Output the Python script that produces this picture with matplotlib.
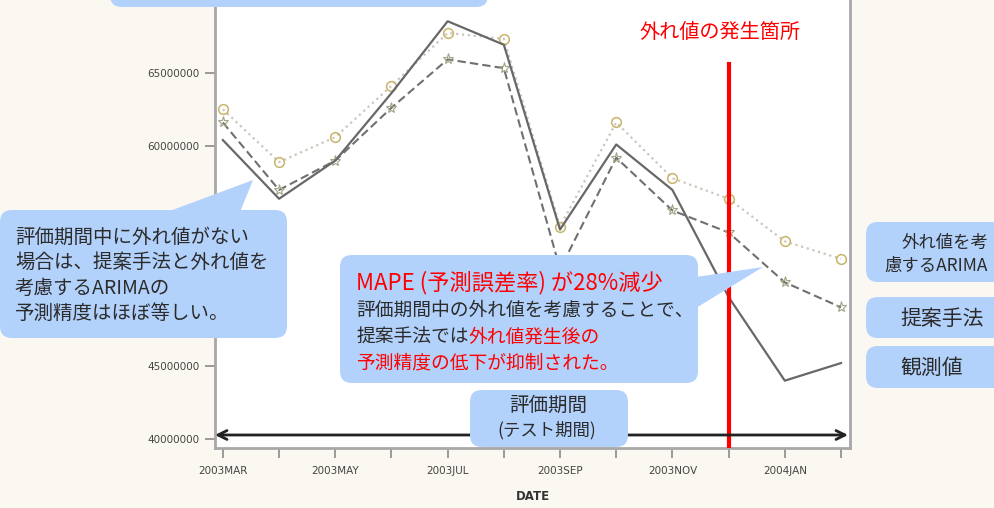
import matplotlib
matplotlib.use('Agg')
import matplotlib.pyplot as plt
from matplotlib.patches import FancyBboxPatch, Polygon

plt.rcParams['font.family'] = ['Noto Sans CJK JP', 'DejaVu Sans']

# monthly series (test period)
months = ['2003MAR', '2003APR', '2003MAY', '2003JUN', '2003JUL', '2003AUG',
          '2003SEP', '2003OCT', '2003NOV', '2003DEC', '2004JAN', '2004FEB']
observed = [60400000, 56400000, 59000000, 63600000, 68500000, 66900000,
            54300000, 60100000, 57000000, 49700000, 44000000, 45200000]
proposed = [61600000, 57000000, 59000000, 62600000, 65900000, 65300000,
            51600000, 59200000, 55600000, 54100000, 50700000, 49000000]
arima_outlier = [62500000, 58900000, 60600000, 64100000, 67700000, 67300000,
                 54500000, 61600000, 57800000, 56400000, 53500000, 52300000]
outlier_month = '2003DEC'
y_ticks = [40000000, 45000000, 50000000, 55000000, 60000000, 65000000]
# the 50M / 55M labels sit under the left note box
y_labels = ['40000000', '45000000', '', '', '60000000', '65000000']

W, H = 995, 508
BOX = '#b3d2fb'
INK = '#2b2b2b'

fig = plt.figure(figsize=(W / 100, H / 100), dpi=100, facecolor='#fbf8f1')

# plot area: x 215..850 px, bottom at 448 px, top runs off the canvas
ax = fig.add_axes([215 / W, 1 - 448 / H, (850 - 215) / W, (448 + 10) / H])
ax.set_facecolor('white')

x = list(range(len(months)))
ax.plot(x, arima_outlier, color='#ccc6bb', ls=':', lw=1.6, marker='o', ms=7,
        mfc='none', mec='#c9b46c', mew=1.1, zorder=2)
ax.plot(x, proposed, color='#707070', ls=(0, (4, 2)), lw=1.5, marker='*', ms=8,
        mfc='none', mec='#a3a385', mew=0.8, zorder=3)
ax.plot(x, observed, color='#686868', lw=1.6, zorder=4)

ax.set_xlim(-0.14, 11.16)
ax.set_ylim(39410000, 70630000)

# red marker where the outlier occurs
ax.axvline(months.index(outlier_month), ymin=0, ymax=(448 - 64) / 458,
           color='red', lw=3, zorder=5)

ax.set_xticks(x[::2])
ax.set_xticklabels(months[::2])
ax.set_xticks(x[1::2], minor=True)
ax.set_yticks(y_ticks)
ax.set_yticklabels(y_labels)
ax.tick_params(axis='both', which='both', length=7, width=1.2, color='#8a8a8a',
               labelsize=7.5, labelcolor='#444444')
ax.tick_params(axis='x', pad=6)
ax.tick_params(axis='y', pad=4)
for lbl in ax.get_xticklabels() + ax.get_yticklabels():
    lbl.set_family('DejaVu Sans')
for side in ['left', 'bottom', 'right']:
    ax.spines[side].set_color('#a8a8a8')
    ax.spines[side].set_linewidth(2)
ax.spines['top'].set_visible(False)
ax.set_xlabel('DATE', fontsize=8.5, fontweight='bold', color='#333333',
              family='DejaVu Sans', labelpad=10)

# annotation layer in pixel units
ov = fig.add_axes([0, 0, 1, 1])
ov.set_xlim(0, W)
ov.set_ylim(H, 0)
ov.axis('off')
ov.patch.set_alpha(0)


def callout(x0, y0, x1, y1, tip=None, r=12):
    ov.add_patch(FancyBboxPatch((x0, y0), x1 - x0, y1 - y0,
                                boxstyle='round,pad=0,rounding_size=%d' % r,
                                fc=BOX, ec='none', zorder=3))
    if tip:
        ov.add_patch(Polygon(tip, closed=True, fc=BOX, ec='none', zorder=3))


# evaluation period arrow
ov.annotate('', xy=(848, 435), xytext=(215, 435),
            arrowprops=dict(arrowstyle='<->', color='#222222', lw=2,
                            mutation_scale=16, shrinkA=0, shrinkB=0),
            zorder=2)

callout(110, -40, 488, 7)
callout(0, 210, 287, 338, tip=[(167, 212), (240, 212), (253, 180)])
callout(340, 255, 698, 383, tip=[(696, 277), (696, 308), (763, 267)])
callout(470, 390, 628, 447)
callout(866, 222, 1010, 282)
callout(866, 297, 1010, 338)
callout(866, 346, 1010, 388)

ov.text(720, 32, '外れ値の発生箇所', color='red', fontsize=14.5,
        ha='center', va='center', zorder=4)

left_lines = ['評価期間中に外れ値がない', '場合は、提案手法と外れ値を',
              '考慮するARIMAの', '予測精度はほぼ等しい。']
for i, s in enumerate(left_lines):
    ov.text(15, 237 + i * 25.5, s, color=INK, fontsize=14, ha='left',
            va='center', zorder=4)

ov.text(356, 283, 'MAPE (予測誤差率) が28%減少', color='red', fontsize=16,
        ha='left', va='center', zorder=4)
ov.text(356, 310, '評価期間中の外れ値を考慮することで、', color=INK,
        fontsize=13.5, ha='left', va='center', zorder=4)
t = ov.text(356, 337, '提案手法では', color=INK, fontsize=13.5,
            ha='left', va='center', zorder=4)
ov.annotate('外れ値発生後の', xy=(1, 0.5), xycoords=t, color='red',
            fontsize=13.5, ha='left', va='center', zorder=4)
ov.text(356, 363, '予測精度の低下が抑制された。', color='red', fontsize=13.5,
        ha='left', va='center', zorder=4)

ov.text(548, 405, '評価期間', color=INK, fontsize=14, ha='center',
        va='center', zorder=4)
ov.text(547, 430, '(テスト期間)', color=INK, fontsize=12.5, ha='center',
        va='center', zorder=4)

ov.text(988, 243, '外れ値を考', color=INK, fontsize=12.5, ha='right',
        va='center', zorder=4)
ov.text(988, 266, '慮するARIMA', color=INK, fontsize=12.5, ha='right',
        va='center', zorder=4)
ov.text(900, 319, '提案手法', color=INK, fontsize=15, ha='left',
        va='center', zorder=4)
ov.text(900, 368, '観測値', color=INK, fontsize=15, ha='left',
        va='center', zorder=4)

fig.savefig('out.png', dpi=100, facecolor=fig.get_facecolor())
